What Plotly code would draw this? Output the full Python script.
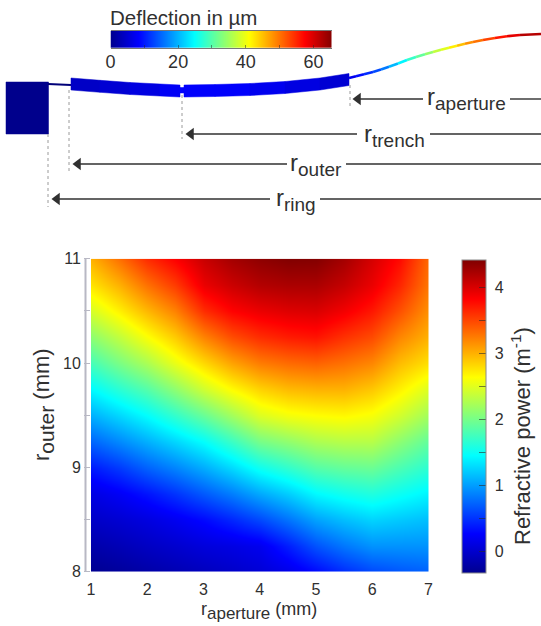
import numpy as np
import plotly.graph_objects as go
from plotly.colors import sample_colorscale

W, H = 541, 626
FONT = "Liberation Sans"
NARROW = "Liberation Sans Narrow, Liberation Sans"
INK = "#303030"

JET = [[0, "rgb(0,0,143)"], [0.125, "rgb(0,0,255)"], [0.375, "rgb(0,255,255)"],
       [0.625, "rgb(255,255,0)"], [0.875, "rgb(255,0,0)"], [1, "rgb(128,0,0)"]]

# Refractive power map
r_aperture = [1, 1.5, 2, 2.5, 3, 3.5, 4, 4.5, 5, 5.5, 6, 6.5, 7]
r_outer = [8, 8.25, 8.5, 8.75, 9, 9.25, 9.5, 9.75, 10, 10.25, 10.5, 10.75, 11]
power_1_0 = [-.32, -.18, -.03, .12, .38, .73, 1.08, 1.44, 1.78, 2.11, 2.45, 2.76, 3.0]
power_1_5 = [-.26, -.12, .03, .22, .53, .9, 1.26, 1.65, 2.02, 2.35, 2.7, 3.0, 3.3]
power_2_0 = [-.2, -.05, .1, .35, .72, 1.08, 1.45, 1.85, 2.25, 2.62, 2.97, 3.3, 3.62]
power_2_5 = [-.14, .01, .19, .5, .88, 1.26, 1.68, 2.12, 2.54, 2.88, 3.22, 3.55, 3.83]
power_3_0 = [-.08, .08, .3, .68, 1.07, 1.46, 1.93, 2.42, 2.82, 3.22, 3.62, 3.92, 4.08]
power_3_5 = [-.02, .12, .44, .85, 1.28, 1.72, 2.2, 2.66, 3.07, 3.47, 3.82, 4.07, 4.25]
power_4_0 = [.05, .18, .6, 1.05, 1.52, 2.0, 2.47, 2.85, 3.25, 3.62, 3.92, 4.18, 4.35]
power_4_5 = [.15, .4, .8, 1.22, 1.68, 2.12, 2.58, 2.96, 3.33, 3.7, 3.98, 4.22, 4.41]
power_5_0 = [.3, .65, 1.02, 1.43, 1.85, 2.25, 2.63, 3.0, 3.37, 3.74, 4.0, 4.22, 4.4]
power_5_5 = [.47, .82, 1.15, 1.53, 1.92, 2.3, 2.66, 3.0, 3.3, 3.6, 3.88, 4.1, 4.25]
power_6_0 = [.6, .95, 1.25, 1.6, 1.95, 2.3, 2.6, 2.9, 3.2, 3.48, 3.72, 3.92, 4.02]
power_6_5 = [.67, .95, 1.2, 1.5, 1.8, 2.1, 2.42, 2.7, 2.95, 3.2, 3.45, 3.65, 3.78]
power_7_0 = [.72, .95, 1.15, 1.4, 1.65, 1.9, 2.2, 2.48, 2.78, 3.0, 3.15, 3.27, 3.33]
power_cols = [power_1_0, power_1_5, power_2_0, power_2_5, power_3_0, power_3_5, power_4_0,
              power_4_5, power_5_0, power_5_5, power_6_0, power_6_5, power_7_0]

# Deflection colour strip
deflection_scale = [0, 5, 10, 15, 20, 25, 30, 35, 40, 45, 50, 55, 60, 65.5]

# Cross-section sketch, read in sketch units
beam_x = [71, 100, 130, 160, 180, 184, 215, 250, 285, 320, 349]
beam_top = [78, 80.3, 82.5, 84, 85, 85, 84.5, 83.5, 81.5, 78, 73.5]
beam_defl = [4, 5, 6, 7.5, 8, 8, 8, 7, 6, 5, 6]
aper_x = [349, 356, 364, 373, 381, 389, 398, 407, 416, 425, 433, 441, 449, 457, 465, 473, 483, 495, 507, 520, 541]
aper_y = [78, 76.3, 74.3, 72, 69.5, 66.8, 63.5, 60, 57, 54.2, 52, 49.8, 47.7, 45.7, 43.7, 42, 40, 38, 36.2, 35, 34]
aper_defl = [7, 9, 11, 13, 16, 20, 24, 28, 31, 34, 37, 39, 42, 45, 48, 50, 53, 56, 59, 62, 65]

fig = go.Figure()

# Map
fig.add_trace(go.Heatmap(
    x=r_aperture, y=r_outer, z=np.array(power_cols).T.tolist(), zsmooth="best",
    zmin=-0.33, zmax=4.42, colorscale=JET, hoverinfo="skip",
    colorbar=dict(
        x=461.7 / W, xanchor="left", y=(H - 573) / H, yanchor="bottom",
        thickness=24.3, thicknessmode="pixels", len=313, lenmode="pixels",
        xpad=0, ypad=0, outlinecolor="#8a8a8a", outlinewidth=1,
        tickmode="array", tickvals=[0, .5, 1, 1.5, 2, 2.5, 3, 3.5, 4],
        ticktext=["\u00a00", "", "\u00a01", "", "\u00a02", "", "\u00a03", "", "\u00a04"],
        ticks="inside", ticklen=7, tickcolor="rgba(40,40,40,0.6)",
        tickfont=dict(family=FONT, size=16, color=INK),
    ),
))

# Deflection strip
fig.add_trace(go.Heatmap(
    x=deflection_scale, y=[0, 1], z=[deflection_scale, deflection_scale], zsmooth="best",
    zmin=0, zmax=65.5, colorscale=JET, showscale=False, hoverinfo="skip",
    xaxis="x3", yaxis="y3",
))

def sketch_line(x, y, color, width, dash=None):
    fig.add_trace(go.Scatter(x=x, y=y, mode="lines", xaxis="x2", yaxis="y2", hoverinfo="skip",
                             showlegend=False, line=dict(color=color, width=width, dash=dash)))

def sketch_fill(x, y, color):
    fig.add_trace(go.Scatter(x=x, y=y, mode="lines", fill="toself", fillcolor=color, xaxis="x2", yaxis="y2",
                             hoverinfo="skip", showlegend=False, line=dict(color=color, width=0.5)))

def jet(v):
    return sample_colorscale(JET, [v / 65.5])[0]

def sketch_text(x, y, text, size, angle=0, anchor="center"):
    fig.add_annotation(x=x, y=y, xref="x2", yref="y2", showarrow=False, xanchor=anchor, yanchor="middle",
                       text=text, textangle=angle, font=dict(family=FONT, size=size, color=INK))

# Anchor block and thin arm
sketch_fill([6, 48.5, 48.5, 6, 6], [82, 82, 134, 134, 82], "rgb(0,0,140)")
sketch_line([48, 60, 71], [84, 84.5, 85], "rgb(0,0,120)", 2)

# Thick ring
for i in range(len(beam_x) - 1):
    if beam_x[i] == 180:
        sketch_fill([180, 184, 184, 180, 180], [87.5, 87.5, 93, 93, 87.5], jet(8))
        continue
    x0, x1 = beam_x[i], beam_x[i + 1]
    t0, t1 = beam_top[i], beam_top[i + 1]
    sketch_fill([x0, x1, x1, x0, x0], [t0, t1, t1 + 12, t0 + 12, t0], jet(beam_defl[i]))

# Aperture membrane
for i in range(len(aper_x) - 1):
    sketch_line(aper_x[i:i + 2], aper_y[i:i + 2], jet(aper_defl[i]), 2.6)

# Left spine of the map
sketch_line([85.5, 85.5], [258.7, 571.7], "#b8b8c4", 2)

# Dotted guides
guide_x = [350, 182, 69, 48]
guide_y0 = [85, 95, 90, 134]
guide_y1 = [107, 139, 172, 207]
for gx, y0, y1 in zip(guide_x, guide_y0, guide_y1):
    sketch_line([gx, gx], [y0, y1], "#9a9a9a", 1, "dot")

# Arrows
arrow_labels = ["aperture", "trench", "outer", "ring"]
arrow_y = [99, 134, 164, 199]
arrow_tip = [353, 186, 73, 52]
gap_start = [423, 357, 287, 270]
gap_end = [510, 430, 346, 320]
label_x = [466, 394, 316, 296]
label_y = [98, 135, 164, 199]
for name, ay, tip, g0, g1, lx, ly in zip(arrow_labels, arrow_y, arrow_tip, gap_start, gap_end, label_x, label_y):
    sketch_line([tip + 6, g0], [ay, ay], INK, 1.4)
    sketch_line([g1, W], [ay, ay], INK, 1.4)
    fig.add_trace(go.Scatter(x=[tip + 5], y=[ay], mode="markers", xaxis="x2", yaxis="y2", hoverinfo="skip",
                             showlegend=False, marker=dict(symbol="triangle-left", size=11, color=INK)))
    sketch_text(lx, ly, f"r<sub><span style='font-size:19px'>{name}</span></sub>", 24)

sketch_text(108, 17, "Deflection in µm", 20.5, anchor="left")
sketch_text(258.5, 611, "r<sub><span style='font-size:17px'>aperture</span></sub> (mm)", 18)
sketch_text(43, 405, "r<sub><span style='font-size:21px'>outer</span></sub> (mm)", 22, angle=-90)
sketch_text(521, 436, "Refractive power (m<sup>-1</sup>)", 22, angle=-90)

fig.update_layout(
    width=W, height=H, margin=dict(l=0, r=0, t=0, b=0, autoexpand=False), paper_bgcolor="white",
    plot_bgcolor="rgba(0,0,0,0)", showlegend=False,
    xaxis=dict(domain=[91 / W, 428.5 / W], range=[1, 7], anchor="y", tickmode="array", tickvals=[1, 2, 3, 4, 5, 6, 7],
               ticks="", showgrid=False, zeroline=False, showline=False, ticklabelstandoff=6,
               tickfont=dict(family=NARROW, size=16, color=INK)),
    yaxis=dict(domain=[(H - 571.7) / H, (H - 258.7) / H], range=[8, 11], anchor="x",
               tickmode="array", tickvals=[8, 8.5, 9, 9.5, 10, 10.5, 11], ticktext=["8", "", "9", "", "10", "", "11"],
               ticks="outside", ticklen=6, tickcolor="#b8b8c4", showgrid=False, zeroline=False,
               showline=False,
               tickfont=dict(family=NARROW, size=16, color=INK)),
    xaxis2=dict(domain=[0, 1], range=[0, W], visible=False, anchor="y2"),
    yaxis2=dict(domain=[0, 1], range=[H, 0], visible=False, anchor="x2"),
    xaxis3=dict(domain=[110.5 / W, 332 / W], range=[0, 65.5], anchor="y3", tickmode="array",
                tickvals=[0, 10, 20, 30, 40, 50, 60], ticktext=["0", "", "20", "", "40", "", "60"],
                ticks="inside", ticklen=3, tickcolor="rgba(40,40,40,0.5)", showgrid=False, zeroline=False,
                mirror=True, showline=True, linecolor="#777777", linewidth=1, ticklabelstandoff=-3,
                tickfont=dict(family=FONT, size=18, color=INK)),
    yaxis3=dict(domain=[(H - 48) / H, (H - 30.7) / H], range=[0, 1], anchor="x3", visible=False),
)

fig.write_html("out.html", config={"displayModeBar": False},
               post_script="document.body.style.margin='0';document.body.style.overflow='hidden';")
